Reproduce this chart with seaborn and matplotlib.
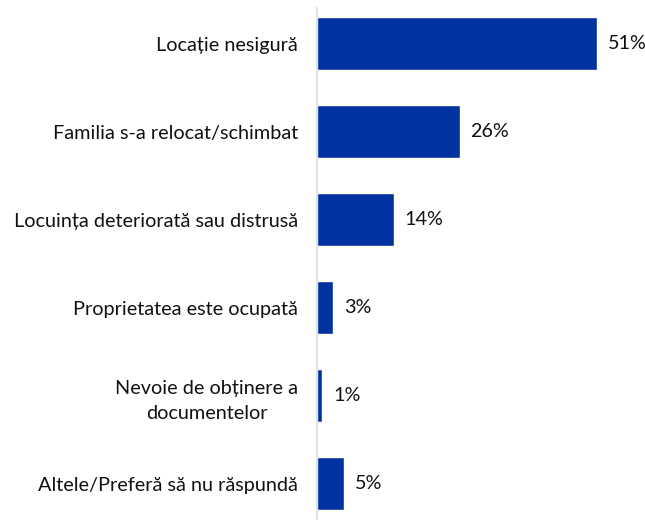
import matplotlib
matplotlib.use("Agg")
import matplotlib.pyplot as plt
import seaborn as sns
import pandas as pd

categories = [
    "Locație nesigură",
    "Familia s-a relocat/schimbat",
    "Locuința deteriorată sau distrusă",
    "Proprietatea este ocupată",
    "Nevoie de obținere a\ndocumentelor",
    "Altele/Preferă să nu răspundă",
]
values = [51, 26, 14, 3, 1, 5]
value_labels = ["51%", "26%", "14%", "3%", "1%", "5%"]

sns.set_theme(style="white")
plt.rcParams["font.family"] = ["Lato", "DejaVu Sans"]

df = pd.DataFrame({"cat": categories, "val": values})

fig = plt.figure(figsize=(6.45, 5.2), dpi=100)
ax = fig.add_axes([317 / 645, 0, 328 / 645, 1 - 8 / 520])
sns.barplot(data=df, x="val", y="cat", orient="h", color="#0033A0",
            width=0.6, saturation=1, ax=ax)

ax.set_xlim(0, 328 / 5.49)
ax.set_ylim((520 - 43.5) / 88, -(43.5 - 8) / 88)
ax.set_xlabel("")
ax.set_ylabel("")
ax.set_xticks([])
for s in ["top", "right", "bottom"]:
    ax.spines[s].set_visible(False)
ax.spines["left"].set_color("#d9d9d9")
ax.spines["left"].set_linewidth(1.2)
ax.tick_params(axis="y", length=0, pad=13.5, labelsize=14.3, labelcolor="#111111")
for lbl in ax.get_yticklabels():
    lbl.set_horizontalalignment("right")
    lbl.set_multialignment("center")
    lbl.set_linespacing(1.6)

for i, (v, t) in enumerate(zip(values, value_labels)):
    ax.annotate(t, xy=(v, i), xytext=(7.5, 0), textcoords="offset points",
                va="center", ha="left", fontsize=14.2, color="#111111")

fig.savefig("out.png", dpi=100)
